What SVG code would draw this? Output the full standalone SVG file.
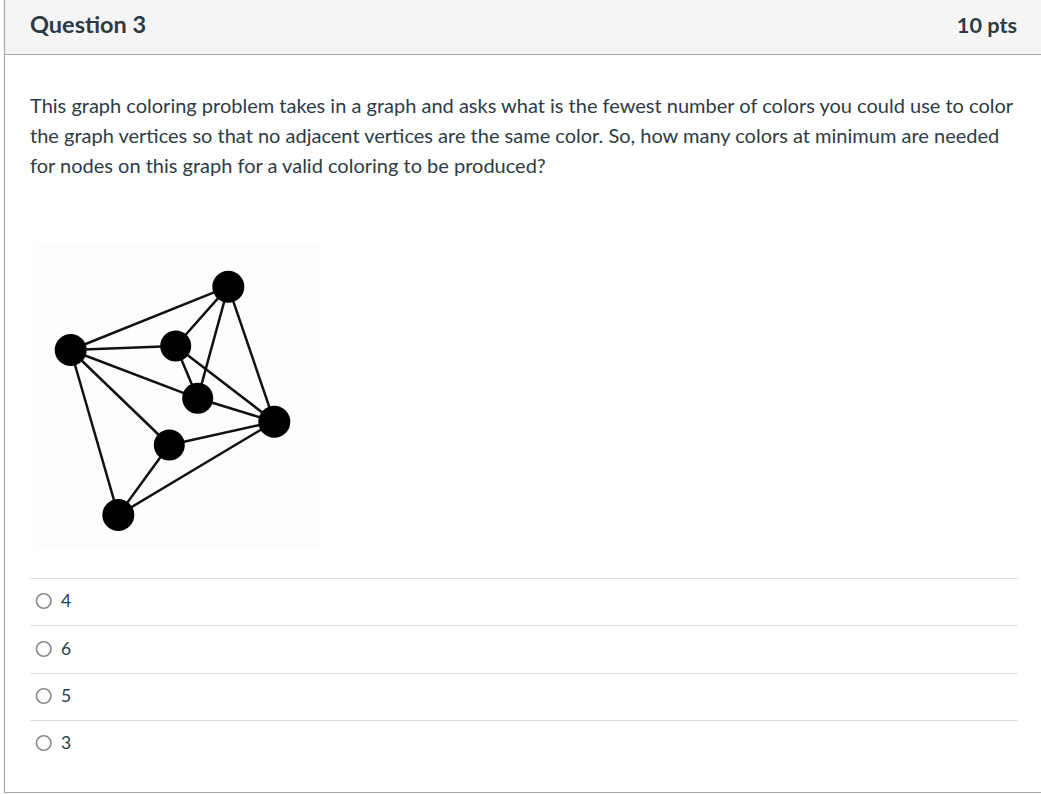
<svg xmlns="http://www.w3.org/2000/svg" width="1041" height="794" viewBox="0 0 1041 794">
<style>
  .txt { font-family: Lato, "Liberation Sans", sans-serif; fill: #2d3b45; }
  .hdr { font-size: 23.5px; font-weight: bold; }
  .pts { font-size: 21.7px; }
  .body { font-size: 20px; }
  .opt { font-size: 17.5px; }
  .sep { stroke: #dcdcdc; stroke-width: 1; }
  .radio { fill: #ffffff; stroke: #8b8b94; stroke-width: 1.6; }
  .edge { stroke: #111111; stroke-width: 2.5; stroke-linecap: round; }
  .node { fill: #000000; }
</style>
<rect x="0" y="0" width="1041" height="794" fill="#ffffff"/>
<rect x="4.5" y="0" width="1040" height="54" fill="#f5f5f5"/>
<line x1="4.5" y1="0" x2="4.5" y2="792.5" stroke="#a8a8a8" stroke-width="1.2"/>
<line x1="4.5" y1="54.5" x2="1041" y2="54.5" stroke="#a8a8a8" stroke-width="1.2"/>
<line x1="4.5" y1="792.5" x2="1041" y2="792.5" stroke="#a8a8a8" stroke-width="1.2"/>
<text class="txt hdr" x="30" y="33">Question 3</text>
<text class="txt hdr pts" x="1017" y="33" text-anchor="end">10 pts</text>
<text class="txt body" x="30" y="113">This graph coloring problem takes in a graph and asks what is the fewest number of colors you could use to color</text>
<text class="txt body" x="30" y="143">the graph vertices so that no adjacent vertices are the same color. So, how many colors at minimum are needed</text>
<text class="txt body" x="30" y="173">for nodes on this graph for a valid coloring to be produced?</text>
<rect x="33" y="243" width="289" height="304" fill="#fdfdfd"/>
<g id="connectors">
  <line class="edge" x1="70.7" y1="350" x2="228.3" y2="286.7"/>
  <line class="edge" x1="70.7" y1="350" x2="175.7" y2="346"/>
  <line class="edge" x1="70.7" y1="350" x2="197.7" y2="398.3"/>
  <line class="edge" x1="70.7" y1="350" x2="169.3" y2="445"/>
  <line class="edge" x1="70.7" y1="350" x2="118.3" y2="515"/>
  <line class="edge" x1="228.3" y1="286.7" x2="175.7" y2="346"/>
  <line class="edge" x1="228.3" y1="286.7" x2="197.7" y2="398.3"/>
  <line class="edge" x1="228.3" y1="286.7" x2="274.3" y2="421.7"/>
  <line class="edge" x1="175.7" y1="346" x2="197.7" y2="398.3"/>
  <line class="edge" x1="175.7" y1="346" x2="274.3" y2="421.7"/>
  <line class="edge" x1="197.7" y1="398.3" x2="274.3" y2="421.7"/>
  <line class="edge" x1="169.3" y1="445" x2="274.3" y2="421.7"/>
  <line class="edge" x1="169.3" y1="445" x2="118.3" y2="515"/>
  <line class="edge" x1="118.3" y1="515" x2="274.3" y2="421.7"/>
</g>
<g id="node-top"><circle class="node" cx="228.3" cy="286.7" r="16"/></g>
<g id="node-left"><circle class="node" cx="70.7" cy="350" r="16"/></g>
<g id="node-upper-mid"><circle class="node" cx="175.7" cy="346" r="15.5"/></g>
<g id="node-center"><circle class="node" cx="197.7" cy="398.3" r="15.5"/></g>
<g id="node-right"><circle class="node" cx="274.3" cy="421.7" r="16"/></g>
<g id="node-lower-mid"><circle class="node" cx="169.3" cy="445" r="15.5"/></g>
<g id="node-bottom"><circle class="node" cx="118.3" cy="515" r="16"/></g>
<line class="sep" x1="30" y1="578.5" x2="1018" y2="578.5"/>
<line class="sep" x1="30" y1="625.5" x2="1018" y2="625.5"/>
<line class="sep" x1="30" y1="673.5" x2="1018" y2="673.5"/>
<line class="sep" x1="30" y1="720.5" x2="1018" y2="720.5"/>
<circle class="radio" cx="43.7" cy="601" r="7.3"/>
<circle class="radio" cx="43.7" cy="649" r="7.3"/>
<circle class="radio" cx="43.7" cy="696" r="7.3"/>
<circle class="radio" cx="43.7" cy="743" r="7.3"/>
<text class="txt opt" x="61" y="607">4</text>
<text class="txt opt" x="61" y="655">6</text>
<text class="txt opt" x="61" y="702">5</text>
<text class="txt opt" x="61" y="749">3</text>
</svg>
